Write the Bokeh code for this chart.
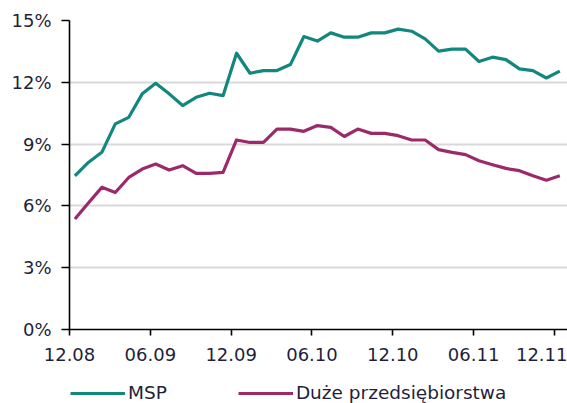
from bokeh.plotting import figure
from bokeh.layouts import column
from bokeh.models import (ColumnDataSource, Range1d, FixedTicker, Legend, LegendItem,
                          NumeralTickFormatter)
from bokeh.embed import file_html
from bokeh.resources import INLINE

# Monthly data 12.08 .. 12.11
months = ["12.08", "01.09", "02.09", "03.09", "04.09", "05.09", "06.09", "07.09", "08.09",
          "09.09", "10.09", "11.09", "12.09", "01.10", "02.10", "03.10", "04.10", "05.10",
          "06.10", "07.10", "08.10", "09.10", "10.10", "11.10", "12.10", "01.11", "02.11",
          "03.11", "04.11", "05.11", "06.11", "07.11", "08.11", "09.11", "10.11", "11.11",
          "12.11"]
msp = [7.46, 8.11, 8.60, 9.98, 10.30, 11.44, 11.95, 11.44, 10.87, 11.27, 11.47, 11.35,
       13.41, 12.44, 12.57, 12.57, 12.86, 14.22, 14.00, 14.40, 14.19, 14.19, 14.40, 14.40,
       14.58, 14.48, 14.11, 13.51, 13.61, 13.61, 13.01, 13.22, 13.10, 12.65, 12.57, 12.21,
       12.54]
duze = [5.36, 6.14, 6.90, 6.65, 7.38, 7.79, 8.03, 7.74, 7.95, 7.58, 7.58, 7.63,
        9.20, 9.08, 9.08, 9.73, 9.73, 9.62, 9.90, 9.81, 9.37, 9.73, 9.52, 9.52,
        9.41, 9.20, 9.20, 8.73, 8.60, 8.49, 8.19, 8.00, 7.82, 7.71, 7.46, 7.25,
        7.46]
tick_labels = ["12.08", "06.09", "12.09", "06.10", "12.10", "06.11", "12.11"]
y_ticks = [0, 3, 6, 9, 12, 15]
series_names = ["MSP", "Duże przedsiębiorstwa"]
colors = ["#12877e", "#9c2a6b"]

idx = list(range(len(months)))
src = ColumnDataSource(dict(x=idx, msp=[v / 100 for v in msp], duze=[v / 100 for v in duze]))

FONT = "DejaVu Sans"
TXT = "#1f1f3a"

p = figure(width=567, height=378, output_backend="svg", toolbar_location=None,
           x_range=Range1d(-0.4, 36.57), y_range=Range1d(0, 0.15),
           min_border_left=69, min_border_right=0, min_border_top=20, min_border_bottom=49)
p.outline_line_color = None
p.background_fill_color = "white"

p.line("x", "msp", source=src, line_color=colors[0], line_width=3.2, line_join="round")
p.line("x", "duze", source=src, line_color=colors[1], line_width=3.2, line_join="round")

# axes
tick_pos = [6 * k - 0.4 for k in range(len(tick_labels))]
p.xaxis.ticker = FixedTicker(ticks=tick_pos)
p.xaxis.major_label_overrides = {t: lab for t, lab in zip(tick_pos, tick_labels)}
p.yaxis.ticker = FixedTicker(ticks=[v / 100 for v in y_ticks])
p.yaxis.formatter = NumeralTickFormatter(format="0%")

for ax in (p.xaxis[0], p.yaxis[0]):
    ax.axis_line_color = "black"
    ax.axis_line_width = 1.6
    ax.major_tick_line_color = "black"
    ax.major_tick_line_width = 1.6
    ax.minor_tick_line_color = None
    ax.major_label_text_font = FONT
    ax.major_label_text_font_size = "18px"
    ax.major_label_text_color = TXT
p.xaxis.major_tick_out = 6
p.xaxis.major_tick_in = 0
p.xaxis.major_label_standoff = 12
p.yaxis.major_tick_out = 8
p.yaxis.major_tick_in = 0
p.yaxis.major_label_standoff = 10

p.xgrid.grid_line_color = None
p.ygrid.grid_line_color = "#d9d9d9"
p.ygrid.grid_line_width = 1.8
p.ygrid.ticker = FixedTicker(ticks=[v / 100 for v in y_ticks])

# legend strip below the chart (its lines lie outside its visible range)
lg = figure(width=567, height=25, output_backend="svg", toolbar_location=None,
            x_range=Range1d(-0.4, 36.57), y_range=Range1d(1, 2),
            x_axis_type=None, y_axis_type=None, min_border=0)
lg.outline_line_color = None
lg.xgrid.visible = False
lg.ygrid.visible = False
d1 = lg.line("x", "msp", source=src, line_color=colors[0], line_width=3.2)
d2 = lg.line("x", "duze", source=src, line_color=colors[1], line_width=3.2)
legend = Legend(items=[LegendItem(label=series_names[0], renderers=[d1]),
                       LegendItem(label=series_names[1], renderers=[d2])],
                orientation="horizontal", location=(1, 0),
                glyph_width=55, glyph_height=20, label_standoff=3, spacing=71,
                padding=0, margin=0, border_line_color=None, background_fill_alpha=0,
                label_text_font=FONT, label_text_font_size="18.5px", label_text_color=TXT)
lg.add_layout(legend, "center")

open("out.html", "w").write(file_html(column(p, lg, spacing=0), INLINE))
